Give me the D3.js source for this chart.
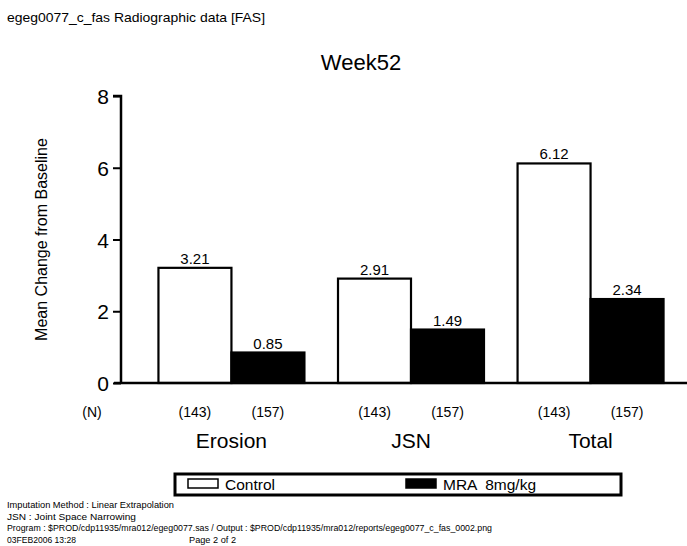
<!DOCTYPE html>
<html><head><meta charset="utf-8">
<script src="https://cdn.jsdelivr.net/npm/d3@7"></script>
<style>body{margin:0;background:#fff}svg{display:block;font-family:"Liberation Sans",Arial,sans-serif}</style>
</head><body>
<svg id="c" width="687" height="546"></svg>
<script>
const categories = ["Erosion", "JSN", "Total"];
const seriesNames = ["Control", "MRA  8mg/kg"];
const controlValues = [3.21, 2.91, 6.12];
const mraValues = [0.85, 1.49, 2.34];
const controlN = ["(143)", "(143)", "(143)"];
const mraN = ["(157)", "(157)", "(157)"];
const yTicks = [0, 2, 4, 6, 8];
const footnotes = [
  "Imputation Method : Linear Extrapolation",
  "JSN : Joint Space Narrowing",
  "Program : $PROD/cdp11935/mra012/egeg0077.sas / Output : $PROD/cdp11935/mra012/reports/egeg0077_c_fas_0002.png",
  "03FEB2006 13:28"
];
const footnoteWidths = [167, 129, 485, 69];

const svg = d3.select("#c");
const x = d3.scaleBand().domain(categories).range([122, 700]).paddingInner(0.187).paddingOuter(0.203);
const sub = d3.scaleBand().domain([0, 1]).range([0, x.bandwidth()]);
const y = d3.scaleLinear().domain([0, 8]).range([383, 96]);

svg.append("text").attr("x", 7).attr("y", 22).attr("font-size", 13)
  .attr("textLength", 258).attr("lengthAdjust", "spacingAndGlyphs")
  .text("egeg0077_c_fas  Radiographic  data  [FAS]");
svg.append("text").attr("x", 361).attr("y", 70).attr("text-anchor", "middle").attr("font-size", 22).text("Week52");

// y axis
const yAxis = d3.axisLeft(y).tickValues(yTicks).tickSize(8).tickPadding(4).tickFormat(d3.format("d"));
const ga = svg.append("g").attr("transform", "translate(121,0)").call(yAxis);
ga.select(".domain").attr("stroke", "#000").attr("stroke-width", 2.5).attr("d", `M-8,${y(8)}H0V${y(0)}`);
ga.selectAll(".tick line").attr("stroke-width", 2);
ga.selectAll(".tick text").attr("font-size", 21).attr("font-family", "Liberation Sans, Arial, sans-serif").attr("dy", "0.36em");

svg.append("text").attr("transform", `translate(47,${y(4)}) rotate(-90)`).attr("text-anchor", "middle")
  .attr("font-size", 16).text("Mean Change from Baseline");

// bars
const data = [];
categories.forEach((c, i) => {
  data.push({c, s: 0, v: controlValues[i], n: controlN[i]});
  data.push({c, s: 1, v: mraValues[i], n: mraN[i]});
});
const g = svg.append("g");
g.selectAll("rect").data(data).join("rect")
  .attr("x", d => x(d.c) + sub(d.s))
  .attr("y", d => y(d.v))
  .attr("width", sub.bandwidth())
  .attr("height", d => y(0) - y(d.v))
  .attr("fill", d => d.s ? "#000" : "#fff")
  .attr("stroke", "#000").attr("stroke-width", 2.2);
g.selectAll("text.val").data(data).join("text").attr("class", "val")
  .attr("x", d => x(d.c) + sub(d.s) + sub.bandwidth() / 2)
  .attr("y", d => y(d.v) - 4)
  .attr("text-anchor", "middle").attr("font-size", 15)
  .text(d => d.v.toFixed(2));

// baseline
svg.append("line").attr("x1", 114).attr("x2", 687).attr("y1", y(0)).attr("y2", y(0)).attr("stroke", "#000").attr("stroke-width", 2.5);

// N row
svg.append("text").attr("x", 92).attr("y", 417).attr("text-anchor", "middle").attr("font-size", 14).text("(N)");
g.selectAll("text.n").data(data).join("text").attr("class", "n")
  .attr("x", d => x(d.c) + sub(d.s) + sub.bandwidth() / 2)
  .attr("y", 417).attr("text-anchor", "middle").attr("font-size", 14).text(d => d.n);
svg.selectAll("text.cat").data(categories).join("text").attr("class", "cat")
  .attr("x", d => x(d) + x.bandwidth() / 2).attr("y", 448).attr("text-anchor", "middle")
  .attr("font-size", 21).text(d => d);

// legend
const lg = svg.append("g");
lg.append("rect").attr("x", 175).attr("y", 474).attr("width", 446).attr("height", 21)
  .attr("fill", "#fff").attr("stroke", "#000").attr("stroke-width", 3);
const legX = [188, 406];
seriesNames.forEach((s, i) => {
  lg.append("rect").attr("x", legX[i]).attr("y", 479).attr("width", 30).attr("height", 9)
    .attr("fill", i ? "#000" : "#fff").attr("stroke", "#000").attr("stroke-width", 1.5);
  lg.append("text").attr("x", legX[i] + 37).attr("y", 490).attr("font-size", 15.5)
    .attr("xml:space", "preserve").style("white-space", "pre").text(s);
});

// footnotes
footnotes.forEach((f, i) => {
  svg.append("text").attr("x", 7).attr("y", 508 + i * 11.7).attr("font-size", 9.5)
    .attr("textLength", footnoteWidths[i]).attr("lengthAdjust", "spacingAndGlyphs").text(f);
});
svg.append("text").attr("x", 189).attr("y", 508 + 3 * 11.7).attr("font-size", 9.5)
  .attr("textLength", 47).attr("lengthAdjust", "spacingAndGlyphs").text("Page 2 of 2");
</script>
</body></html>
